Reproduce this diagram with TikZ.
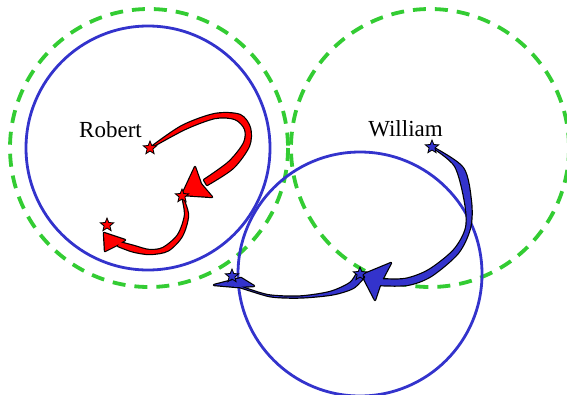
\documentclass[tikz,border=0pt]{standalone}
\usepackage{fontspec}
\setmainfont{Liberation Serif}
\usetikzlibrary{shapes.geometric}
\definecolor{ringgreen}{RGB}{51,204,51}
\definecolor{ringblue}{RGB}{51,51,204}
\tikzset{
  zone/.style={draw=ringgreen,line width=3.8pt,dash pattern=on 13pt off 9pt},
  reach/.style={draw=ringblue,line width=2.8pt},
  starmark/.style={star,star points=5,star point ratio=2.3,minimum size=14pt,inner sep=0pt,draw=black,line width=0.8pt},
  ribbonedge/.style={draw=black,line width=2.4pt,line join=round},
  lbl/.style={font=\fontsize{23}{27}\selectfont,anchor=base,inner sep=0pt}
}
\begin{document}
\begin{tikzpicture}[x=1pt,y=-1pt]
\useasboundingbox (0,0) rectangle (567,394);
% circles
\draw[zone] (149,148) circle (139);
\draw[zone] (430,148) circle (139);
\draw[reach] (148,148) circle (122);
\draw[reach] (360,274) circle (122);
% star positions
\coordinate (r1) at (150,148);
\coordinate (r2) at (182,196);
\coordinate (r3) at (107,225);
\coordinate (w1) at (432,147);
\coordinate (w2) at (360,274);
\coordinate (w3) at (232,276);
% labels
\node[lbl] (rob) at (110.5,137.3) {Robert};
\node[lbl] (wil) at (405.5,136.7) {William};
% paths
\def\ribA{plot[smooth] coordinates {(r1) (185,129) (215,118) (235,119) (245,129) (244,143) (229,162) (204,180)}
  -- plot[smooth] coordinates {(207,185) (233,168) (249,146) (250,128) (240,115) (215,114) (182,126) (r1)} -- cycle}
\def\headA{(182,195) -- (195,167) -- (201,184) -- (212,197) -- cycle}
\def\ribB{plot[smooth] coordinates {(r2) (185,215) (178,235) (163,248) (149,250) (134,246) (119,242)}
  -- plot[smooth] coordinates {(118,246) (133,251.5) (150,254) (168,250.5) (182,236) (188,215) (r2)} -- cycle}
\def\headB{(104,233) -- (125,240) -- (117,245) -- (105,251) -- cycle}
\def\ribC{plot[smooth] coordinates {(w1) (455,166) (465,202) (466,228) (454,250) (429,270) (405,279) (378,279)}
  -- plot[smooth] coordinates {(377,285) (407,285) (431,276) (458,253) (470,228) (471,202) (463,168) (w1)} -- cycle}
\def\headC{(362,275) -- (391,263) -- (381,282) -- (375,300) -- cycle}
\def\ribD{plot[smooth] coordinates {(357,273) (350,283) (330,292) (300,296.5) (270,295.5) (250,290) (238,285.5)}
  -- plot[smooth] coordinates {(238,286.5) (252,291) (272,296.5) (300,297.5) (332,294.5) (353,288) (364,277)} -- cycle}
\def\headD{(214,285) -- (241,278) -- (254,286) -- (237,287) -- cycle}
% red moves (Robert)
\draw[ribbonedge] \ribA; \draw[ribbonedge] \headA;
\fill[red] \ribA; \fill[red] \headA;
\draw[ribbonedge] \ribB; \draw[ribbonedge] \headB;
\fill[red] \ribB; \fill[red] \headB;
% blue moves (William)
\draw[ribbonedge] \ribC; \draw[ribbonedge] \headC;
\fill[ringblue] \ribC; \fill[ringblue] \headC;
\draw[ribbonedge] \ribD; \draw[ribbonedge] \headD;
\fill[ringblue] \ribD; \fill[ringblue] \headD;
% stars
\node[starmark,fill=red] (s1) at (r1) {};
\node[starmark,fill=red] (s2) at (r2) {};
\node[starmark,fill=red] (s3) at (r3) {};
\node[starmark,fill=ringblue] (s4) at (w1) {};
\node[starmark,fill=ringblue] (s5) at (w2) {};
\node[starmark,fill=ringblue] (s6) at (w3) {};
\end{tikzpicture}
\end{document}
